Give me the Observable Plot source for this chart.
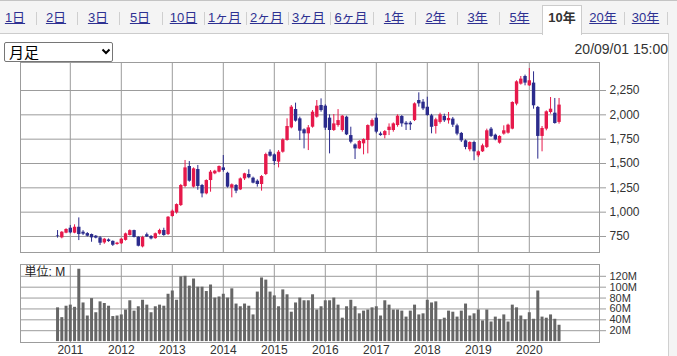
<!DOCTYPE html>
<html><head><meta charset="utf-8">
<script src="https://cdn.jsdelivr.net/npm/d3@7"></script>
<script src="https://cdn.jsdelivr.net/npm/@observablehq/plot@0.6"></script>
<style>
body{margin:0;background:#fff;}
#wrap{position:relative;width:677px;height:356px;overflow:hidden;font-family:Arial,"Liberation Sans","Noto Sans CJK JP",sans-serif;}
#tabs{position:absolute;left:0;top:0;width:677px;height:34px;background:#f4f4f4;border-top:1px solid #c4c4c4;border-bottom:1px solid #cccccc;box-sizing:border-box;z-index:2;}
.tab{position:absolute;top:9px;font-size:13px;color:#2e3192;text-decoration:underline;transform:translateX(-50%);white-space:nowrap;line-height:16px;}
.sep{position:absolute;top:11px;width:1px;height:13px;background:#cfcfcf;}
#selTab{position:absolute;left:542px;top:4px;width:40px;height:30px;background:#fff;border:1px solid #cccccc;border-bottom:none;box-sizing:border-box;}
#selTab span{position:absolute;left:0;right:0;top:4px;text-align:center;font-size:13px;font-weight:bold;color:#333;line-height:16px;}
#foot{position:absolute;left:668px;top:33px;width:9px;height:323px;background:#f4f4f4;border-left:1px solid #d0d0d0;box-sizing:border-box;z-index:2;}
#sel{position:absolute;left:4px;top:42px;width:109px;height:20px;box-sizing:border-box;background:#fff;border:1px solid #767676;border-radius:2px;z-index:3;}
#sel span{position:absolute;left:4px;top:0px;font-size:15px;line-height:18px;font-family:"Noto Sans CJK JP",sans-serif;color:#000;}
#sel svg{position:absolute;left:96px;top:5px;}
#stamp{position:absolute;right:9px;top:41px;font-size:14px;color:#333;z-index:3;}
#mainChart{position:absolute;left:0;top:0;}
#volChart{position:absolute;left:0;top:256px;}
</style></head>
<body>
<div id="wrap">
  <div id="mainChart"></div>
  <div id="volChart"></div>
  <div id="tabs"></div>
  <div id="foot"></div>
  <div id="sel"><span></span><svg width="10" height="8"><polyline points="1.5,1.5 5,5 8.5,1.5" fill="none" stroke="#000" stroke-width="2"/></svg></div>
  <div id="stamp"></div>
</div>
<script>
// ---- tabs ----
const tabLabels = ["1日","2日","3日","5日","10日","1ヶ月","2ヶ月","3ヶ月","6ヶ月","1年","2年","3年","5年","10年","20年","30年"];
const selectedTab = "10年";
const timeStamp = "20/09/01 15:00";
const frequency = "月足";

// ---- monthly candles (Oct 2010 – Aug 2020) ----
const months = [
"2010-10","2010-11","2010-12",
"2011-01","2011-02","2011-03","2011-04","2011-05","2011-06","2011-07","2011-08","2011-09","2011-10","2011-11","2011-12",
"2012-01","2012-02","2012-03","2012-04","2012-05","2012-06","2012-07","2012-08","2012-09","2012-10","2012-11","2012-12",
"2013-01","2013-02","2013-03","2013-04","2013-05","2013-06","2013-07","2013-08","2013-09","2013-10","2013-11","2013-12",
"2014-01","2014-02","2014-03","2014-04","2014-05","2014-06","2014-07","2014-08","2014-09","2014-10","2014-11","2014-12",
"2015-01","2015-02","2015-03","2015-04","2015-05","2015-06","2015-07","2015-08","2015-09","2015-10","2015-11","2015-12",
"2016-01","2016-02","2016-03","2016-04","2016-05","2016-06","2016-07","2016-08","2016-09","2016-10","2016-11","2016-12",
"2017-01","2017-02","2017-03","2017-04","2017-05","2017-06","2017-07","2017-08","2017-09","2017-10","2017-11","2017-12",
"2018-01","2018-02","2018-03","2018-04","2018-05","2018-06","2018-07","2018-08","2018-09","2018-10","2018-11","2018-12",
"2019-01","2019-02","2019-03","2019-04","2019-05","2019-06","2019-07","2019-08","2019-09","2019-10","2019-11","2019-12",
"2020-01","2020-02","2020-03","2020-04","2020-05","2020-06","2020-07","2020-08"];

const open = [758,736,784,
835,784,845,794,780,770,753,736,684,715,700,668,
675,710,760,811,742,643,768,750,728,775,812,770,
955,993,1068,1264,1469,1257,1438,1274,1188,1325,1394,1411,
1455,1400,1247,1274,1229,1342,1387,1349,1318,1284,1387,1616,
1589,1514,1616,1736,1866,2055,1959,1846,1805,1873,1976,2096,
2089,1966,1839,1890,1839,1976,1787,1691,1650,1702,1736,1883,
1966,1804,1787,1839,1839,1890,1983,1914,1914,1941,2147,2130,
2078,1990,1880,1922,1983,1939,1956,1887,1809,1733,1641,1716,
1579,1620,1665,1853,1791,1709,1802,1812,1853,2110,2315,2394,
2298,2326,2076,1778,1853,2024,2017,1922];

const high = [811,800,830,
863,870,941,810,790,775,760,750,730,725,705,690,
730,785,818,815,748,752,785,760,785,825,835,955,
1022,1085,1285,1531,1520,1455,1480,1285,1332,1428,1430,1475,
1582,1410,1290,1284,1352,1400,1435,1360,1332,1376,1606,1640,
1599,1633,1753,1959,2096,2120,1976,1856,1890,2044,2147,2164,
2103,2000,2003,2054,1993,1986,1873,1702,1736,1753,1897,1958,
2010,1822,1839,1907,1917,2000,1993,1931,1931,2123,2226,2157,
2181,2005,1965,2017,2007,2024,1973,1904,1819,1743,1723,1730,
1630,1699,1853,1870,1802,1785,1887,1904,2134,2350,2394,2408,
2476,2442,2086,1880,2041,2178,2168,2168];

const low = [733,726,778,
777,778,708,760,745,691,726,657,670,690,648,660,
668,703,755,735,643,633,740,715,722,765,752,760,
948,980,1058,1250,1308,1247,1225,1147,1178,1205,1385,1404,
1411,1247,1147,1190,1222,1325,1343,1291,1257,1216,1376,1565,
1480,1455,1606,1729,1856,1925,1736,1650,1633,1863,1966,2027,
1839,1599,1829,1873,1822,1787,1702,1541,1643,1589,1599,1873,
1805,1780,1753,1787,1822,1873,1873,1839,1839,1931,2079,2044,
1986,1805,1802,1905,1922,1905,1870,1785,1716,1641,1620,1528,
1562,1613,1654,1767,1733,1699,1791,1802,1846,2093,2305,2298,
2291,2058,1545,1620,1836,2007,1904,1904];

const close = [752,794,822,
787,845,770,774,753,736,733,681,722,698,660,682,
722,777,810,740,650,740,745,725,778,812,760,948,
1010,1078,1274,1455,1318,1445,1264,1188,1325,1411,1421,1469,
1428,1257,1281,1216,1342,1394,1353,1298,1284,1366,1592,1575,
1520,1616,1743,1880,2079,1935,1832,1805,1866,2027,2089,2044,
1863,1839,1907,1941,1986,1794,1719,1650,1726,1746,1890,1941,
1822,1787,1828,1873,1907,1986,1907,1897,1897,2113,2113,2061,
1993,1872,1949,2000,1939,1963,1894,1802,1733,1665,1716,1620,
1620,1682,1836,1778,1743,1778,1836,1894,2127,2339,2367,2326,
2350,2093,1778,1860,2031,2058,1911,2100];

// volume in millions of shares
const volume = [62,44,65,
67,63,133,71,47,79,53,73,70,65,46,47,
49,58,75,56,64,76,67,53,64,67,65,87,
93,76,119,120,102,115,100,100,92,104,80,82,
87,80,97,69,64,69,65,49,91,117,113,91,
84,64,95,86,54,71,80,75,75,86,58,64,
75,75,80,67,43,64,76,64,51,56,58,62,
64,47,75,67,58,58,56,45,56,67,49,51,
76,71,73,40,43,56,54,45,56,69,47,51,
58,38,58,36,45,41,49,36,67,62,47,40,
53,41,93,45,43,49,41,30];

// axis tick labels
const years = ["2011","2012","2013","2014","2015","2016","2017","2018","2019","2020"];
const priceTicks = [750,1000,1250,1500,1750,2000,2250];
const volTicks = [20,40,60,80,100,120];
const volUnitLabel = "単位: M";

// ---- build HTML header ----
const tabCenters = [15,56,98,140,183.5,224.5,266.5,308.5,351,394,435.5,477.5,519.5,562,603,645.5];
const tabsEl = document.getElementById("tabs");
tabLabels.forEach((lab, i) => {
  if (lab === selectedTab) {
    const s = document.createElement("div"); s.id = "selTab";
    const sp = document.createElement("span"); sp.textContent = lab; s.appendChild(sp);
    tabsEl.appendChild(s);
  } else {
    const t = document.createElement("span"); t.className = "tab"; t.textContent = lab;
    t.style.left = tabCenters[i] + "px"; tabsEl.appendChild(t);
  }
  if (i < tabLabels.length - 1 && lab !== selectedTab && tabLabels[i+1] !== selectedTab) {
    const sep = document.createElement("div"); sep.className = "sep";
    sep.style.left = Math.round((tabCenters[i] + tabCenters[i+1]) / 2) + "px";
    tabsEl.appendChild(sep);
  }
});
{ const sep = document.createElement("div"); sep.className = "sep"; sep.style.left = "667px"; tabsEl.appendChild(sep); }
document.querySelector("#sel span").textContent = frequency;
document.getElementById("stamp").textContent = timeStamp;

// ---- data table ----
const monthPos = m => { const [y, mo] = m.split("-").map(Number); return (y - 2011) * 12 + (mo - 1); };
const candles = months.map((m, k) => ({t: monthPos(m), open: open[k], high: high[k], low: low[k], close: close[k], vol: volume[k]}));
const ups = candles.filter(d => d.close >= d.open);
const downs = candles.filter(d => d.close < d.open);
const yearTicks = years.map(y => monthPos(y + "-01"));
const yearByPos = new Map(years.map(y => [monthPos(y + "-01"), y]));

const RED = "#e6194b", NAVY = "#2b2b8c", GRID = "#9c9c9c", TXT = "#333";
const xDomain = [-11.718, 124.518];
const font = "Arial, 'Liberation Sans', 'Noto Sans CJK JP', sans-serif";

const main = Plot.plot({
  width: 677, height: 256,
  marginLeft: 20, marginRight: 78, marginTop: 62, marginBottom: 4,
  style: {fontFamily: font, fontSize: "12px", background: "transparent", overflow: "visible"},
  x: {domain: xDomain, axis: null, label: null},
  y: {domain: [585.6, 2537.7], label: null},
  marks: [
    Plot.gridX(yearTicks, {stroke: GRID, strokeOpacity: 1}),
    Plot.gridY(priceTicks, {stroke: GRID, strokeOpacity: 1}),
    Plot.frame({stroke: GRID}),
    Plot.axisY(priceTicks, {anchor: "right", label: null, tickSize: 6, tickPadding: 4, stroke: GRID, fill: TXT, fontSize: 12, tickFormat: d3.format(",")}),
    Plot.ruleX(ups, {x: "t", y1: "low", y2: "high", stroke: RED, strokeWidth: 1}),
    Plot.ruleX(downs, {x: "t", y1: "low", y2: "high", stroke: NAVY, strokeWidth: 1}),
    Plot.ruleX(ups, {x: "t", y1: "open", y2: "close", stroke: RED, strokeWidth: 3.4}),
    Plot.ruleX(downs, {x: "t", y1: "open", y2: "close", stroke: NAVY, strokeWidth: 3.4})
  ]
});
document.getElementById("mainChart").appendChild(main);

const vol = Plot.plot({
  width: 677, height: 100,
  marginLeft: 20, marginRight: 78, marginTop: 8, marginBottom: 14,
  style: {fontFamily: font, fontSize: "12px", background: "transparent", overflow: "visible"},
  x: {domain: xDomain, label: null},
  y: {domain: [-1.7, 141.7], label: null},
  marks: [
    Plot.gridX(yearTicks, {stroke: GRID, strokeOpacity: 1}),
    Plot.gridY(volTicks, {stroke: GRID, strokeOpacity: 1}),
    Plot.ruleX(candles, {x: "t", y1: 0, y2: "vol", stroke: "#666", strokeWidth: 3}),
    Plot.frame({stroke: GRID}),
    Plot.axisY(volTicks, {anchor: "right", label: null, tickSize: 6, tickPadding: 4, stroke: GRID, fill: TXT, fontSize: 11, tickFormat: d => d + "M"}),
    Plot.axisX(yearTicks, {anchor: "bottom", label: null, tickSize: 0, tickPadding: 3, fill: TXT, fontSize: 12, tickFormat: d => yearByPos.get(d)}),
    Plot.text([volUnitLabel], {frameAnchor: "top-left", dx: 4, dy: 3, text: d => d, fill: "#222", fontSize: 12})
  ]
});
document.getElementById("volChart").appendChild(vol);
</script>
</body></html>
